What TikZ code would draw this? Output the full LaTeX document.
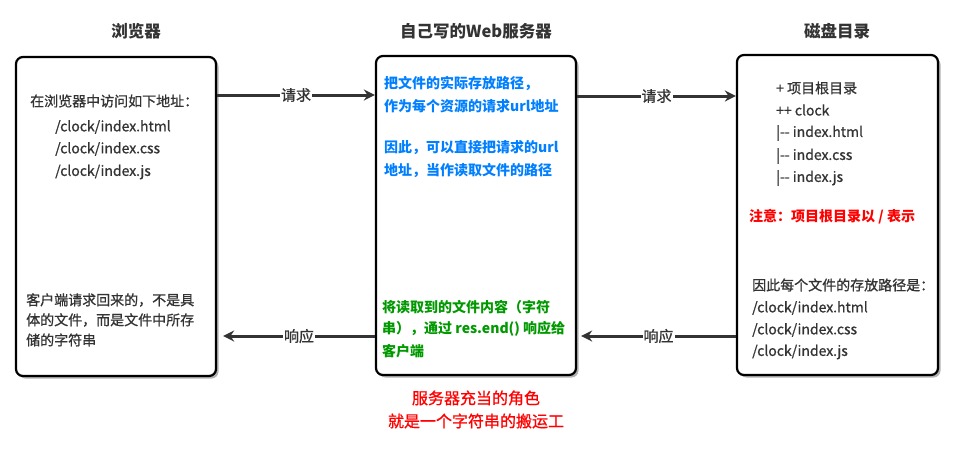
\documentclass[tikz,border=0pt]{standalone}
\usepackage{fontspec}
\setmainfont{Noto Sans CJK SC}
\newfontfamily\medfont{Noto Sans CJK SC}[FakeBold=0.9]
\usetikzlibrary{arrows.meta,shadows}
\definecolor{ink}{HTML}{333333}
\definecolor{bluet}{HTML}{007FFF}
\definecolor{greent}{HTML}{009900}
\definecolor{redt}{HTML}{FF0000}
\tikzset{
  panel/.style={draw=black, line width=2.2pt, rounded corners=7pt, fill=white,
    minimum width=200pt, minimum height=319pt, inner sep=0pt,
    drop shadow={shadow xshift=2.5pt, shadow yshift=-2.5pt, fill=black!30, opacity=1}},
  title/.style={font=\fontsize{16.5}{20}\selectfont\bfseries, text=ink, inner sep=0pt},
  txt/.style={font=\fontsize{14}{17}\selectfont\medfont, text=ink, inner sep=0pt, anchor=west},
  btxt/.style={txt, font=\fontsize{14}{17}\selectfont\bfseries},
  blu/.style={btxt, text=bluet},
  grn/.style={btxt, text=greent},
  rednote/.style={btxt, text=redt},
  conn/.style={draw=ink, line width=3pt, -{Stealth[length=11pt,width=11pt]}},
  lbl/.style={font=\fontsize{15}{18}\selectfont\medfont, text=ink, fill=white, inner sep=1pt}
}
\begin{document}
\begin{tikzpicture}[x=1pt,y=-1pt]
\useasboundingbox (0,0) rectangle (967,461);
\fill[white] (0,0) rectangle (967,461);

% titles
\node[title] (t1) at (136,31) {浏览器};
\node[title] (t2) at (476,31) {自己写的Web服务器};
\node[title] (t3) at (837,31) {磁盘目录};

% panels
\node[panel] (lb) at (116,216.5) {};
\node[panel] (mb) at (476,215.5) {};
\node[panel, minimum width=201pt, minimum height=320pt] (rb) at (837.5,215) {};

% left panel text
\node[txt] (l1) at (30,101) {在浏览器中访问如下地址：};
\node[txt] (l2) at (55,127) {/clock/index.html};
\node[txt] (l3) at (55,149) {/clock/index.css};
\node[txt] (l4) at (55,172) {/clock/index.js};
\node[txt] (l5) at (26,300) {客户端请求回来的，不是具};
\node[txt] (l6) at (26,320) {体的文件，而是文件中所存};
\node[txt] (l7) at (26,340) {储的字符串};

% middle panel text
\node[blu] (m1) at (384,83) {把文件的实际存放路径，};
\node[blu] (m2) at (384,106) {作为每个资源的请求url地址};
\node[blu] (m3) at (384,148) {因此，可以直接把请求的url};
\node[blu] (m4) at (384,171) {地址，当作读取文件的路径};
\node[grn] (m5) at (382,307) {将读取到的文件内容（字符};
\node[grn] (m6) at (382,329) {串），通过 res.end() 响应给};
\node[grn] (m7) at (382,351) {客户端};

% red caption
\node[font=\fontsize{16}{20}\selectfont\medfont, text=redt, inner sep=0pt] (c1) at (476,398) {服务器充当的角色};
\node[font=\fontsize{16}{20}\selectfont\medfont, text=redt, inner sep=0pt] (c2) at (476,421) {就是一个字符串的搬运工};

% right panel text
\node[txt] (r1) at (776,88) {+ 项目根目录};
\node[txt] (r2) at (776,110) {++ clock};
\node[txt] (r3) at (776,133) {|-{}- index.html};
\node[txt] (r4) at (776,156) {|-{}- index.css};
\node[txt] (r5) at (776,178) {|-{}- index.js};
\node[rednote] (r6) at (749,217) {注意：项目根目录以 / 表示};
\node[txt] (r7) at (752,285) {因此每个文件的存放路径是：};
\node[txt] (r8) at (752,308) {/clock/index.html};
\node[txt] (r9) at (752,330) {/clock/index.css};
\node[txt] (r10) at (752,352) {/clock/index.js};

% connectors
\draw[conn] ([yshift=121.5pt]lb.east) -- node[lbl]{请求} ([yshift=120.5pt]mb.west);
\draw[conn] ([yshift=119.5pt]mb.east) -- node[lbl]{请求} ([yshift=119pt]rb.west);
\draw[conn] ([yshift=-121pt]rb.west) -- node[lbl]{响应} ([xshift=4pt,yshift=-120.5pt]mb.east);
\draw[conn] ([yshift=-120.5pt]mb.west) -- node[lbl]{响应} ([xshift=6pt,yshift=-119.5pt]lb.east);
\end{tikzpicture}
\end{document}
